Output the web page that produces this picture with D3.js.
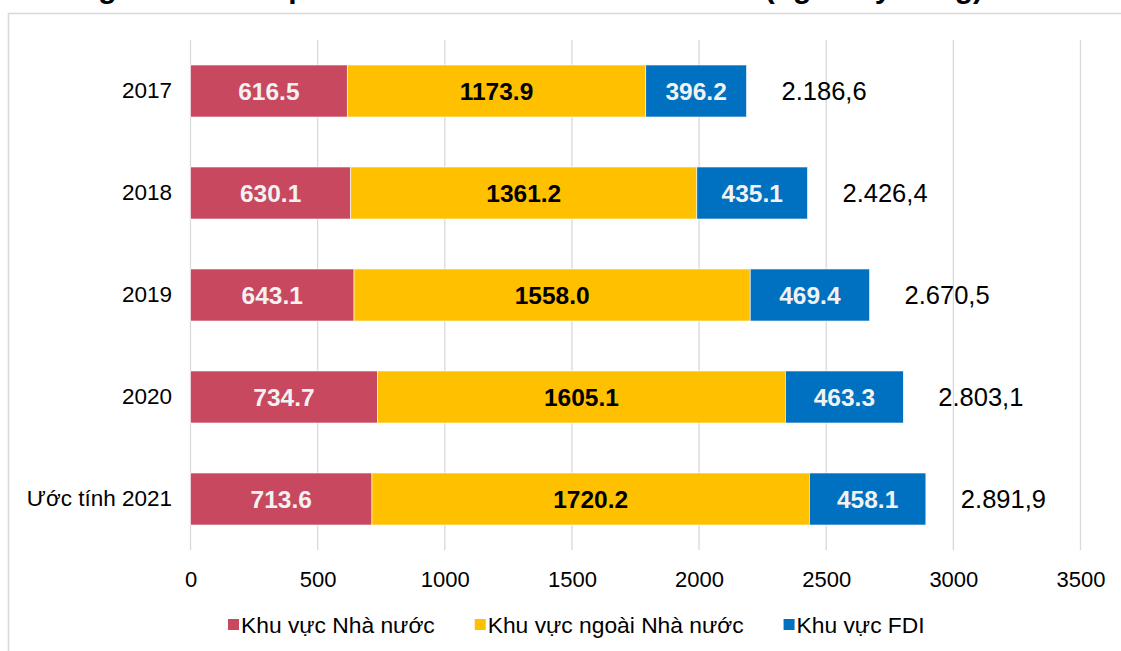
<!DOCTYPE html>
<html>
<head>
<meta charset="utf-8">
<script src="https://cdn.jsdelivr.net/npm/d3@7"></script>
<style>
  html, body { margin: 0; padding: 0; background: #ffffff; overflow: hidden; }
  svg { display: block; font-family: "Liberation Sans", Arial, sans-serif; }
</style>
</head>
<body>
<svg id="chart" width="1121" height="651"></svg>
<script>
// Investment by economic sector, thousand billion VND
const categories = ["2017", "2018", "2019", "2020", "Ước tính 2021"];
const seriesNames = ["Khu vực Nhà nước", "Khu vực ngoài Nhà nước", "Khu vực FDI"];
const stateSector = [616.5, 630.1, 643.1, 734.7, 713.6];
const nonStateSector = [1173.9, 1361.2, 1558.0, 1605.1, 1720.2];
const fdiSector = [396.2, 435.1, 469.4, 463.3, 458.1];
const totals = [2186.6, 2426.4, 2670.5, 2803.1, 2891.9];
const xTicks = [0, 500, 1000, 1500, 2000, 2500, 3000, 3500];
const titleText = "Tổng vốn đầu tư phát triển theo hình thức sở hữu (nghìn tỷ đồng)";

const colors = ["#C8485F", "#FFC000", "#0070C0"];
const labelColors = ["#F2F2F2", "#000000", "#F2F2F2"];

const svg = d3.select("#chart");

// chart frame
svg.append("rect")
  .attr("x", 8.5).attr("y", 13.5)
  .attr("width", 1130).attr("height", 660)
  .attr("fill", "none").attr("stroke", "#d9d9d9").attr("stroke-width", 1.6);

// title, sitting above the top edge of the frame
svg.append("text")
  .attr("x", 983).attr("y", -2)
  .attr("text-anchor", "end")
  .attr("font-weight", "bold").attr("font-size", 30)
  .attr("fill", "#000")
  .text(titleText);

const x = d3.scaleLinear().domain([0, 3500]).range([190.5, 1080.5]);
const y = d3.scaleBand().domain(categories).range([40, 550])
  .paddingInner(0.49).paddingOuter(0.245);

// vertical gridlines
svg.append("g").selectAll("line").data(xTicks).join("line")
  .attr("x1", d => x(d)).attr("x2", d => x(d))
  .attr("y1", 40).attr("y2", 550)
  .attr("stroke", "#d9d9d9").attr("stroke-width", 1.3);

// x axis tick labels
const xAxis = d3.axisBottom(x).tickValues(xTicks).tickSize(0).tickPadding(0).tickFormat(d3.format("d"));
const gx = svg.append("g").attr("transform", "translate(0,570)").call(xAxis);
gx.select(".domain").remove();
gx.selectAll("text")
  .attr("font-family", "'Liberation Sans', Arial, sans-serif")
  .attr("font-size", 22).attr("fill", "#000").attr("dy", "0.75em");

// category axis labels
const yAxis = d3.axisLeft(y).tickSize(0).tickPadding(0);
const gy = svg.append("g").attr("transform", "translate(172,0)").call(yAxis);
gy.select(".domain").remove();
gy.selectAll("text")
  .attr("font-family", "'Liberation Sans', Arial, sans-serif")
  .attr("font-size", 22.5).attr("fill", "#000");

// stacked data
const rows = categories.map((c, i) => ({
  cat: c, s0: stateSector[i], s1: nonStateSector[i], s2: fdiSector[i], total: totals[i]
}));
const stack = d3.stack().keys(["s0", "s1", "s2"]);
const layers = stack(rows);

const fmtSeg = d3.format(".1f");
const vi = d3.formatLocale({ decimal: ",", thousands: ".", grouping: [3], currency: ["", ""] });
const fmtTotal = vi.format(",.1f");

const gLayers = svg.append("g").selectAll("g").data(layers).join("g")
  .attr("fill", (d, i) => colors[i]);

gLayers.selectAll("rect").data(d => d).join("rect")
  .attr("x", d => x(d[0]))
  .attr("width", d => x(d[1]) - x(d[0]))
  .attr("y", d => y(d.data.cat))
  .attr("height", y.bandwidth())
  .attr("stroke", "#ffffff").attr("stroke-width", 0.6);

// segment value labels
layers.forEach((layer, li) => {
  svg.append("g").selectAll("text").data(layer).join("text")
    .attr("x", d => (x(d[0]) + x(d[1])) / 2)
    .attr("y", d => y(d.data.cat) + y.bandwidth() / 2)
    .attr("dy", "0.36em")
    .attr("text-anchor", "middle")
    .attr("font-weight", "bold").attr("font-size", 24.5)
    .attr("fill", labelColors[li])
    .text(d => fmtSeg(d[1] - d[0]));
});

// totals beside each bar
svg.append("g").selectAll("text").data(rows).join("text")
  .attr("x", d => x(d.total) + 35)
  .attr("y", d => y(d.cat) + y.bandwidth() / 2)
  .attr("dy", "0.36em")
  .attr("font-size", 25.5).attr("fill", "#000")
  .text(d => fmtTotal(d.total));

// legend
const legend = svg.append("g");
let lx = 228;
seriesNames.forEach((name, i) => {
  const item = legend.append("g");
  item.append("rect").attr("x", lx).attr("y", 619).attr("width", 11).attr("height", 11)
    .attr("fill", colors[i]);
  const t = item.append("text").attr("x", lx + 13).attr("y", 633)
    .attr("font-size", 22.8).attr("fill", "#000").text(name);
  lx += 13 + t.node().getComputedTextLength() + 40;
});
</script>
</body>
</html>
